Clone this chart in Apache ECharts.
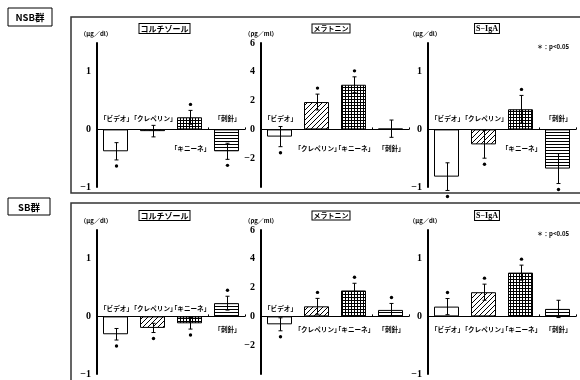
<!DOCTYPE html>
<html><head><meta charset="utf-8">
<script src="https://cdn.jsdelivr.net/npm/echarts@6/dist/echarts.min.js"></script>
<style>html,body{margin:0;padding:0;background:#fff}#c{width:580px;height:380px}</style>
</head><body><div id="c"></div><script>
// ---- data ----
const categories = ['「ビデオ」', '「クレペリン」', '「キニーネ」', '「刺針」'];
const groupNames = ['NSB群', 'SB群'];
const panelTitles = ['コルチゾール', 'メラトニン', 'S−IgA'];
const unitLabels = ['（μg／dl）', '（ρg／ml）', '（μg／dl）'];
const sigNote = '＊：p<0.05';

const nsbCortisol = [-0.38, -0.03, 0.21, -0.38];
const nsbCortisolErr = [0.15, 0.1, 0.12, 0.14];
const nsbCortisolSig = [1, 0, 1, 1];
const nsbMelatonin = [-0.5, 1.9, 3.1, 0.05];
const nsbMelatoninErr = [0.7, 0.55, 0.55, 0.6];
const nsbMelatoninSig = [1, 1, 1, 0];
const nsbSIgA = [-0.82, -0.26, 0.35, -0.68];
const nsbSIgAErr = [0.24, 0.24, 0.24, 0.26];
const nsbSIgASig = [1, 1, 1, 1];

const sbCortisol = [-0.31, -0.2, -0.12, 0.23];
const sbCortisolErr = [0.1, 0.08, 0.1, 0.12];
const sbCortisolSig = [1, 1, 1, 1];
const sbMelatonin = [-0.55, 0.7, 1.8, 0.45];
const sbMelatoninErr = [0.45, 0.55, 0.5, 0.45];
const sbMelatoninSig = [1, 1, 1, 1];
const sbSIgA = [0.17, 0.42, 0.76, 0.13];
const sbSIgAErr = [0.14, 0.14, 0.13, 0.15];
const sbSIgASig = [1, 1, 1, 0];

const cortRange = [-1, 1.5, 1];   // min, max, interval
const melaRange = [-4, 6, 2];

// ---- patterns ----
function mk(w, h, draw) {
  const c = document.createElement('canvas'); c.width = w; c.height = h;
  const g = c.getContext('2d'); g.fillStyle = '#fff'; g.fillRect(0, 0, w, h);
  g.fillStyle = '#000'; g.strokeStyle = '#000'; g.lineWidth = 1; draw(g); return c;
}
const hatch = mk(5, 5, g => { g.beginPath(); g.moveTo(-1, 6); g.lineTo(6, -1); g.moveTo(-1, 1); g.lineTo(1, -1); g.moveTo(4, 6); g.lineTo(6, 4); g.stroke(); });
const gridP = mk(3, 3, g => { g.fillRect(0, 0, 3, 1); g.fillRect(0, 0, 1, 3); });
const horiz = mk(1, 3, g => { g.fillRect(0, 0, 1, 1); });
const fills = ['#fff', { image: hatch, repeat: 'repeat' }, { image: gridP, repeat: 'repeat' }, { image: horiz, repeat: 'repeat' }];

const panels = [
  { v: nsbCortisol, e: nsbCortisolErr, s: nsbCortisolSig, r: cortRange, row: 0, col: 0 },
  { v: nsbMelatonin, e: nsbMelatoninErr, s: nsbMelatoninSig, r: melaRange, row: 0, col: 1 },
  { v: nsbSIgA, e: nsbSIgAErr, s: nsbSIgASig, r: cortRange, row: 0, col: 2 },
  { v: sbCortisol, e: sbCortisolErr, s: sbCortisolSig, r: cortRange, row: 1, col: 0 },
  { v: sbMelatonin, e: sbMelatoninErr, s: sbMelatoninSig, r: melaRange, row: 1, col: 1 },
  { v: sbSIgA, e: sbSIgAErr, s: sbSIgASig, r: cortRange, row: 1, col: 2 }
];
const colLeft = [97, 261, 428];
const rowTop = [43, 230];
const rowLabelOff = [[11, 19], [8, 13]]; // above, below

const grids = [], xAxes = [], yAxes = [], series = [];
panels.forEach((p, k) => {
  grids.push({ left: colLeft[p.col], top: rowTop[p.row], width: 148, height: 144, outerBoundsMode: 'none', containLabel: false });
  xAxes.push({
    type: 'category', gridIndex: k, data: categories,
    axisLine: { onZero: true, lineStyle: { color: '#000', width: 1 } },
    axisTick: { show: true, inside: true, length: 2, lineStyle: { color: '#000' } },
    axisLabel: { show: false }, splitLine: { show: false }
  });
  yAxes.push({
    type: 'value', gridIndex: k, min: p.r[0], max: p.r[1], interval: p.r[2],
    axisLine: { show: true, lineStyle: { color: '#000', width: 2 } },
    axisTick: { show: false }, splitLine: { show: false },
    axisLabel: {
      showMaxLabel: p.r === cortRange ? false : true,
      showMinLabel: p.r === melaRange ? false : true,
      margin: 6, color: '#000', fontSize: 10, fontWeight: 'bold', fontFamily: 'Liberation Serif',
      formatter: v => v < 0 ? '−' + (-v) : String(v)
    }
  });
  series.push({
    type: 'bar', xAxisIndex: k, yAxisIndex: k, barWidth: 25,
    data: p.v.map((v, i) => ({ value: v, itemStyle: { color: fills[i], borderColor: '#000', borderWidth: 1 } })),
    silent: true, animation: false
  });
  const off = rowLabelOff[p.row];
  series.push({
    type: 'custom', xAxisIndex: k, yAxisIndex: k, z: 5, clip: false, animation: false, silent: true,
    data: p.v.map((v, i) => [i, v, p.e[i], p.s[i]]),
    encode: { x: 0, y: 1 },
    renderItem: (params, api) => {
      const i = api.value(0), v = api.value(1), e = api.value(2), s = api.value(3);
      const top = api.coord([i, v + e]), bot = api.coord([i, v - e]), zero = api.coord([i, 0]);
      const x = Math.round(top[0]) + 0.5;
      const st = { stroke: '#000', lineWidth: 1 };
      const ch = [
        { type: 'line', shape: { x1: x, y1: top[1], x2: x, y2: bot[1] }, style: st },
        { type: 'line', shape: { x1: x - 2, y1: top[1], x2: x + 2, y2: top[1] }, style: st },
        { type: 'line', shape: { x1: x - 2, y1: bot[1], x2: x + 2, y2: bot[1] }, style: st }
      ];
      if (s) {
        const sy = v >= 0 ? top[1] - 6 : bot[1] + 6;
        ch.push({ type: 'circle', shape: { cx: x, cy: sy, r: 1.7 }, style: { fill: '#000' } });
      }
      const ly = v >= 0 ? zero[1] + off[1] : zero[1] - off[0];
      ch.push({ type: 'text', style: { text: categories[i], x: x, y: ly, align: 'center', verticalAlign: 'middle', font: 'bold 6.6px "Noto Sans CJK JP"', fill: '#000' } });
      return { type: 'group', children: ch };
    }
  });
});

// ---- decorations ----
const graphic = [
  { type: 'rect', shape: { x: 71, y: 17, width: 530, height: 176 }, style: { fill: 'none', stroke: '#333', lineWidth: 1.5 } },
  { type: 'rect', shape: { x: 71, y: 203, width: 530, height: 200 }, style: { fill: 'none', stroke: '#333', lineWidth: 1.5 } },
  { type: 'rect', shape: { x: 8, y: 8, width: 44, height: 18 }, style: { fill: '#fff', stroke: '#000', lineWidth: 1 } },
  { type: 'text', style: { text: groupNames[0], x: 30, y: 17.5, align: 'center', verticalAlign: 'middle', font: 'bold 9.5px "Noto Sans CJK JP"', fill: '#000' } },
  { type: 'rect', shape: { x: 8, y: 198, width: 42, height: 17 }, style: { fill: '#fff', stroke: '#000', lineWidth: 1 } },
  { type: 'text', style: { text: groupNames[1], x: 29, y: 207, align: 'center', verticalAlign: 'middle', font: 'bold 9.5px "Noto Sans CJK JP"', fill: '#000' } }
];
const titleCx = [164.5, 331, 487];
const titleFont = ['bold 8px "Noto Sans CJK JP"', 'bold 7px "Noto Sans CJK JP"', 'bold 8px "Liberation Serif"'];
const unitCx = [96, 261, 425];
[0, 1].forEach(row => {
  const dy = row * 187;
  [0, 1, 2].forEach(col => {
    graphic.push({ type: 'text', style: { text: panelTitles[col], x: titleCx[col], y: 28.5 + dy, align: 'center', verticalAlign: 'middle', font: titleFont[col], fill: '#000', borderColor: '#000', borderWidth: 1, padding: [1, 1, 0, 1], backgroundColor: '#fff' } });
    graphic.push({ type: 'text', style: { text: unitLabels[col], x: unitCx[col], y: 34 + dy, align: 'center', verticalAlign: 'middle', font: 'bold 6px "Noto Sans CJK JP"', fill: '#000' } });
  });
  graphic.push({ type: 'text', style: { text: sigNote, x: 553, y: 47 + dy, align: 'center', verticalAlign: 'middle', font: 'bold 6px "Noto Sans CJK JP"', fill: '#000' } });
});

const chart = echarts.init(document.getElementById('c'), null, { renderer: 'canvas' });
chart.setOption({
  animation: false, backgroundColor: '#fff',
  grid: grids, xAxis: xAxes, yAxis: yAxes, series: series, graphic: graphic
});
</script></body></html>
